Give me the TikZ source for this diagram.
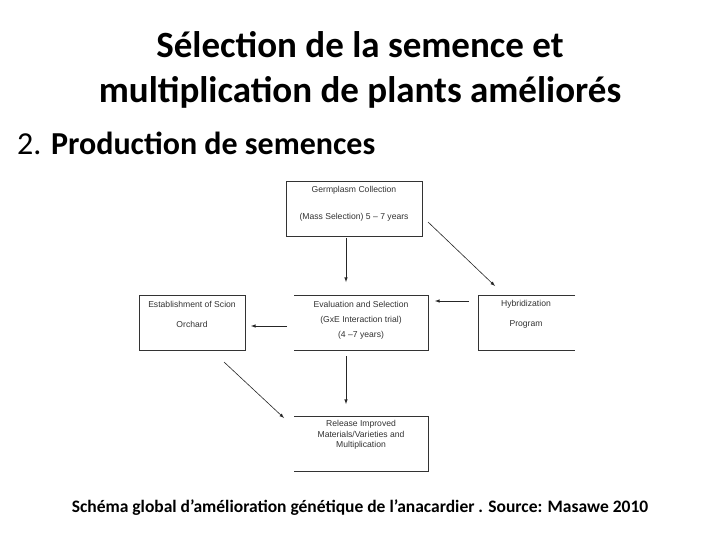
\documentclass[tikz,border=0pt]{standalone}
\usepackage{fontspec}
\setmainfont{Carlito}
\newfontfamily\arialf{Liberation Sans}
\begin{document}
\begin{tikzpicture}[x=1pt,y=-1pt,
  lab/.style={font=\arialf\fontsize{8.6}{10}\selectfont,text=black!80},
  arr/.style={-latex,black!85,line width=0.6pt}]
\useasboundingbox[fill=white] (0,0) rectangle (720,540);
\node[font=\bfseries\fontsize{37}{44}\selectfont] (t1) at (360,45) {Sélection de la semence et};
\node[font=\bfseries\fontsize{37}{44}\selectfont] (t2) at (360,92) {multiplication de plants améliorés};
\node[font=\fontsize{32}{38}\selectfont,anchor=west,inner sep=0] (t3) at (17,143) {2. \textbf{Production de semences}};
\node[font=\bfseries\fontsize{17.5}{20}\selectfont] (cap) at (360,508) {Schéma global d’amélioration génétique de l’anacardier . Source: Masawe 2010};
% boxes
\draw[black!80,line width=0.6pt] (286,181) rectangle (422,236);
\draw[black!80,line width=0.6pt] (139,295) rectangle (245,350);
\draw[black!80,line width=0.6pt] (294,295) -- (428,295) -- (428,350) -- (294,350);
\draw[black!80,line width=0.6pt] (575,295) -- (478,295) -- (478,350) -- (575,350);
\draw[black!80,line width=0.6pt] (294,416) -- (428,416) -- (428,471) -- (294,471);
% texts
\node[lab] (g1) at (354,190) {Germplasm Collection};
\node[lab] (g2) at (354,217) {(Mass Selection) 5 – 7 years};
\node[lab] (e1) at (361,304) {Evaluation and Selection};
\node[lab] (e2) at (361,320) {(GxE Interaction trial)};
\node[lab] (e3) at (361,335) {(4 –7 years)};
\node[lab] (h1) at (526,304) {Hybridization};
\node[lab] (h2) at (526,324) {Program};
\node[lab] (s1) at (192,304) {Establishment of Scion};
\node[lab] (s2) at (192,324) {Orchard};
\node[lab,align=center,font=\arialf\fontsize{8.6}{10.5}\selectfont] (r) at (361,435) {Release Improved\\Materials/Varieties and\\Multiplication};
% arrows
\coordinate (a1) at (346,238); \coordinate (a2) at (346,282);
\draw[arr] (a1) -- (a2);
\coordinate (b1) at (428,222); \coordinate (b2) at (495,286);
\draw[arr] (b1) -- (b2);
\coordinate (c1) at (469,301); \coordinate (c2) at (435,301);
\draw[arr] (c1) -- (c2);
\coordinate (d1) at (287,326); \coordinate (d2) at (251,326);
\draw[arr] (d1) -- (d2);
\coordinate (e4) at (346,356); \coordinate (e5) at (346,404);
\draw[arr] (e4) -- (e5);
\coordinate (f1) at (224,362); \coordinate (f2) at (284,418);
\draw[arr] (f1) -- (f2);
\end{tikzpicture}
\end{document}
